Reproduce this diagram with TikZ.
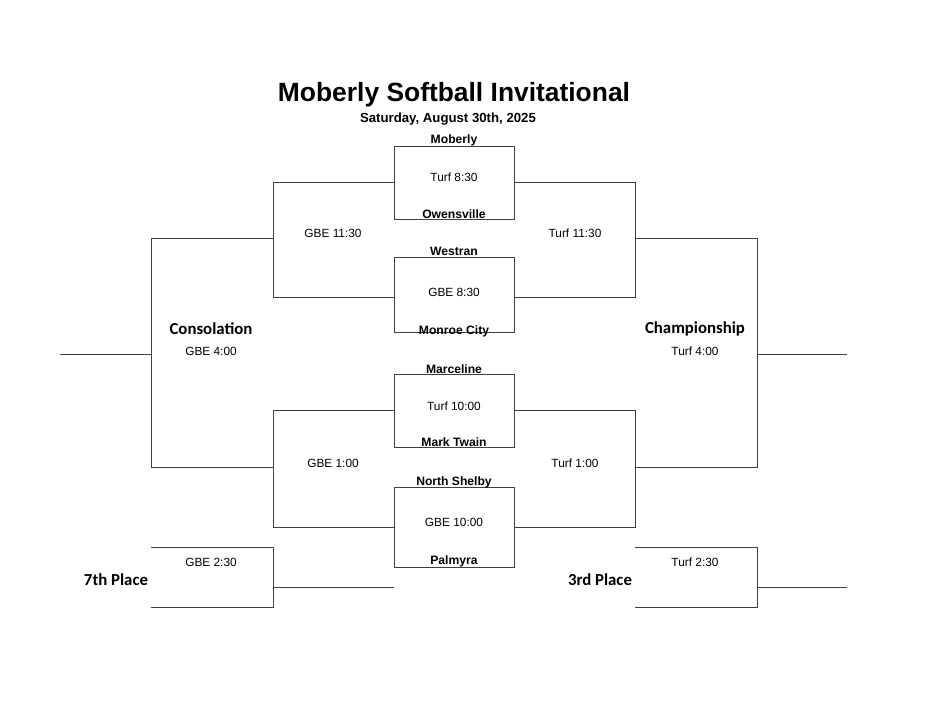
\documentclass[tikz,border=0pt]{standalone}
\usepackage{fontspec}
\setmainfont{Liberation Sans}
\newfontfamily\carlitofont{Carlito}
\begin{document}
\begin{tikzpicture}[x=0.75pt,y=-0.75pt,
  every node/.style={yshift=-1.5pt},
  ln/.style={draw=black!75,line width=0.65pt},
  team/.style={font=\fontsize{9.1}{10}\selectfont\bfseries},
  tm/.style={font=\fontsize{8.9}{10}\selectfont},
  big/.style={font=\carlitofont\fontsize{12.6}{14}\selectfont\bfseries}]
\useasboundingbox (0,0) rectangle (926,715);
\node[font=\fontsize{19.8}{22}\selectfont\bfseries] (title) at (454,93) {Moberly Softball Invitational};
\node[font=\fontsize{9.9}{11}\selectfont\bfseries] (sub) at (448,117) {Saturday, August 30th, 2025};
% boxes
\foreach \n/\a/\b in {b1/146/219,b2/257/332,b3/374/447,b4/487/567}{
  \draw[ln] (394,\a) rectangle (514,\b);}
% left
\draw[ln] (394,182) -- (273,182) -- (273,297) -- (394,297);
\draw[ln] (273,238) -- (151,238) -- (151,467) -- (273,467);
\draw[ln] (394,410) -- (273,410) -- (273,527) -- (394,527);
\draw[ln] (151,354) -- (60,354);
% right
\draw[ln] (514,182) -- (635,182) -- (635,297) -- (514,297);
\draw[ln] (635,238) -- (757,238) -- (757,467) -- (635,467);
\draw[ln] (514,410) -- (635,410) -- (635,527) -- (514,527);
\draw[ln] (757,354) -- (847,354);
% 7th
\draw[ln] (151,547) -- (273,547) -- (273,607) -- (151,607);
\draw[ln] (273,587) -- (394,587);
% 3rd
\draw[ln] (635,547) -- (757,547) -- (757,607) -- (635,607);
\draw[ln] (757,587) -- (847,587);
% teams
\node[team] (t1) at (454,138) {Moberly};
\node[team] (t2) at (454,212) {Owensville};
\node[team] (t3) at (454,249) {Westran};
\node[team] (t4) at (454,329) {Monroe City};
\node[team] (t5) at (454,367) {Marceline};
\node[team] (t6) at (454,440) {Mark Twain};
\node[team] (t7) at (454,480) {North Shelby};
\node[team] (t8) at (454,559) {Palmyra};
% times
\node[tm] (g1) at (454,175) {Turf 8:30};
\node[tm] (g2) at (454,290) {GBE 8:30};
\node[tm] (g3) at (454,404) {Turf 10:00};
\node[tm] (g4) at (454,520) {GBE 10:00};
\node[tm] (g5) at (333,231) {GBE 11:30};
\node[tm] (g6) at (575,231) {Turf 11:30};
\node[tm] (g7) at (333,461) {GBE 1:00};
\node[tm] (g8) at (575,461) {Turf 1:00};
\node[big] (c1) at (211,327) {Consolation};
\node[tm] (c2) at (211,349) {GBE 4:00};
\node[big] (ch1) at (695,327) {Championship};
\node[tm] (ch2) at (695,349) {Turf 4:00};
\node[tm] (s1) at (211,560) {GBE 2:30};
\node[big] (s2) at (116,578) {7th Place};
\node[tm] (h1) at (695,560) {Turf 2:30};
\node[big] (h2) at (600,578) {3rd Place};
\end{tikzpicture}
\end{document}
